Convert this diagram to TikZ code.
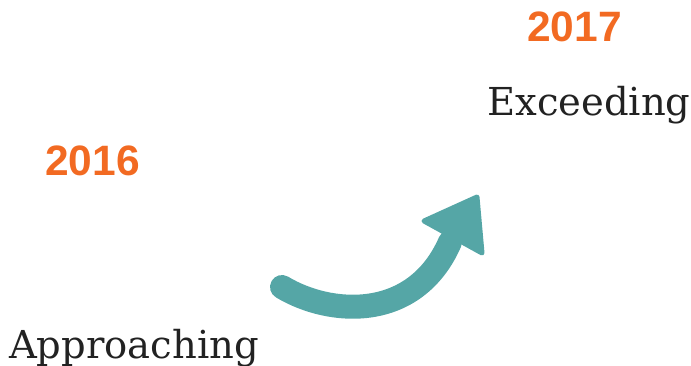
\documentclass[tikz,border=0pt]{standalone}
\usepackage{fontspec}
\setmainfont{DejaVu Serif}
\newfontfamily\yearfont{Liberation Sans}
\usetikzlibrary{positioning}
\definecolor{yearorange}{HTML}{F26A22}
\definecolor{arrowteal}{HTML}{55A6A6}
\definecolor{labelgray}{HTML}{222222}

\begin{document}
\begin{tikzpicture}[x=1pt, y=-1pt,
      year/.style={inner sep=0pt, anchor=base west, text=yearorange,
        font=\yearfont\bfseries\fontsize{42.5}{42.5}\selectfont},
      level/.style={inner sep=0pt, anchor=base west, text=labelgray,
        font=\fontsize{38.5}{38.5}\selectfont},
      curvearr/.style={draw=arrowteal, line width=24pt, line cap=round},
      arrhead/.style={fill=arrowteal, draw=arrowteal, line width=5pt, line join=round}
    ]
    \useasboundingbox (0,0) rectangle (691,366);

    % --- labels ---
    \node[year] (y2016) at (45,176) {2016};
    \node[level] (approach) at (9,358) {Approaching};
    \node[year] (y2017) at (527,42) {2017};
    \node[level] (exceed) at (487,116) {Exceeding};

    % --- curved arrow ---
    \coordinate (tail) at (282,287);
    \coordinate (neck) at (450,242);
    \draw[curvearr] (tail) .. controls (330,316) and (415,322) .. (neck);
    \filldraw[arrhead] (424,221) -- (477,197) -- (482,253) -- cycle;
\end{tikzpicture}
\end{document}
